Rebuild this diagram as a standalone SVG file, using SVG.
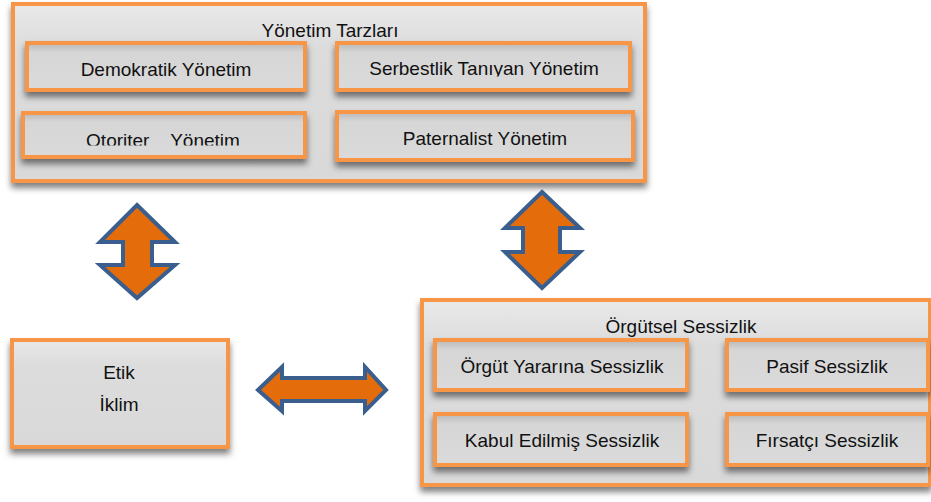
<svg xmlns="http://www.w3.org/2000/svg" width="931" height="502" viewBox="0 0 931 502">
<defs>
<linearGradient id="gOuter" x1="0" y1="0" x2="0" y2="1">
<stop offset="0" stop-color="#e9e9e9"/>
<stop offset="0.25" stop-color="#dcdcdc"/>
<stop offset="1" stop-color="#d9d9d9"/>
</linearGradient>
<linearGradient id="gInner" x1="0" y1="0" x2="0" y2="1">
<stop offset="0" stop-color="#b8b8b8"/>
<stop offset="0.2" stop-color="#d6d6d6"/>
<stop offset="1" stop-color="#dadada"/>
</linearGradient>
<filter id="sh" x="-10%" y="-20%" width="120%" height="150%">
<feDropShadow dx="0" dy="5" stdDeviation="3" flood-color="#000" flood-opacity="0.5"/>
</filter>
<clipPath id="clipOto"><rect x="20" y="110" width="290" height="35.5"/></clipPath>
<clipPath id="clipSerb"><rect x="335" y="40" width="300" height="36.5"/></clipPath>
</defs>
<style>
.outer{fill:url(#gOuter);stroke:#F79646;stroke-width:4;filter:url(#sh)}
.inner{fill:url(#gInner);stroke:#F79646;stroke-width:4;filter:url(#sh)}
.t{font-family:"Liberation Sans",Arial,sans-serif;font-size:19px;fill:#111;text-anchor:middle}
.arrow{fill:#E46C0A;stroke:#3A5F8E;stroke-width:4;stroke-linejoin:miter}
</style>

<g id="yonetim-tarzlari">
<rect class="outer" x="13" y="4" width="632" height="177"/>
<text class="t" x="330" y="37">Yönetim Tarzları</text>
</g>
<g id="demokratik">
<rect class="inner" x="27" y="43" width="278" height="47"/>
<text class="t" x="166" y="76">Demokratik Yönetim</text>
</g>
<g id="otoriter">
<rect class="inner" x="23" y="113" width="282" height="44"/>
<text class="t" x="163" y="146.5" clip-path="url(#clipOto)" style="white-space:pre">Otoriter    Yönetim</text>
</g>
<g id="serbestlik">
<rect class="inner" x="337" y="43" width="293" height="47"/>
<text class="t" x="484" y="75" clip-path="url(#clipSerb)">Serbestlik Tanıyan Yönetim</text>
</g>
<g id="paternalist">
<rect class="inner" x="337" y="112" width="296" height="48"/>
<text class="t" x="485" y="145">Paternalist Yönetim</text>
</g>

<g id="etik-iklim">
<rect class="outer" x="12" y="340" width="216" height="107"/>
<text class="t" x="119" y="379">Etik</text>
<text class="t" x="119" y="411">İklim</text>
</g>

<g id="orgutsel-sessizlik">
<rect class="outer" x="422" y="300" width="508" height="185"/>
<text class="t" x="681" y="333">Örgütsel Sessizlik</text>
</g>
<g id="orgut-yararina">
<rect class="inner" x="435" y="340" width="252" height="50"/>
<text class="t" x="562" y="373">Örgüt Yararına Sessizlik</text>
</g>
<g id="pasif">
<rect class="inner" x="727" y="340" width="201" height="50"/>
<text class="t" x="827" y="373">Pasif Sessizlik</text>
</g>
<g id="kabul">
<rect class="inner" x="435" y="414" width="252" height="51"/>
<text class="t" x="562" y="447">Kabul Edilmiş Sessizlik</text>
</g>
<g id="firsatci">
<rect class="inner" x="727" y="414" width="201" height="51"/>
<text class="t" x="827" y="447">Fırsatçı Sessizlik</text>
</g>

<g id="connectors">
<polygon class="arrow" points="137,205 175,242 152,242 152,265 175,265 137,298 100,265 123,265 123,242 100,242"/>
<polygon class="arrow" points="542,192 580,228 560,228 560,252 580,252 542,288 505,252 523,252 523,228 505,228"/>
<polygon class="arrow" points="258,390 282,367 282,378 365,378 365,367 386,390 365,411 365,401 282,401 282,411"/>
</g>
</svg>
